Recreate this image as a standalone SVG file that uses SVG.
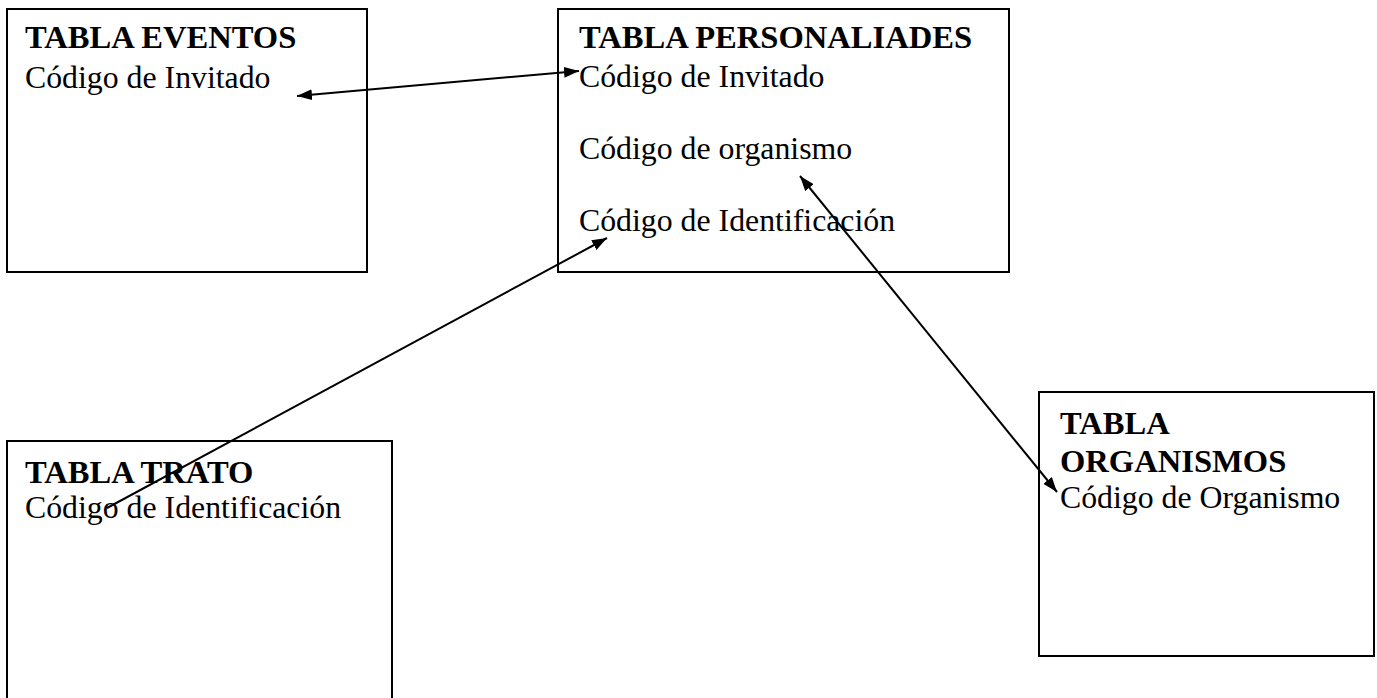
<svg xmlns="http://www.w3.org/2000/svg" width="1377" height="698" viewBox="0 0 1377 698">
<style>
.box{fill:#fff;stroke:#000;stroke-width:2}
.t{font-family:"Liberation Serif","Times New Roman",serif;font-size:31.8px;fill:#000}
.b{font-weight:bold;font-size:32.6px}
.c{fill:none;stroke:#000;stroke-width:2}
</style>
<defs>
<marker id="ah" viewBox="0 0 10 10" refX="10" refY="5" markerWidth="15" markerHeight="11" markerUnits="userSpaceOnUse" orient="auto-start-reverse" preserveAspectRatio="none">
<path d="M0,0 L10,5 L0,10 z" fill="#000"/>
</marker>
</defs>
<rect width="1377" height="698" fill="#fff"/>
<g id="eventos">
<rect class="box" x="7" y="9" width="360" height="263"/>
<text class="t b" x="25" y="48">TABLA EVENTOS</text>
<text class="t" x="25" y="88">Código de Invitado</text>
</g>
<g id="personalidades">
<rect class="box" x="558" y="9" width="451" height="263"/>
<text class="t b" x="579" y="48">TABLA PERSONALIADES</text>
<text class="t" x="579" y="87">Código de Invitado</text>
<text class="t" x="579" y="159">Código de organismo</text>
<text class="t" x="579" y="231">Código de Identificación</text>
</g>
<g id="trato">
<rect class="box" x="7" y="441" width="385" height="270"/>
<text class="t b" x="25" y="483">TABLA TRATO</text>
<text class="t" x="25" y="518">Código de Identificación</text>
</g>
<g id="organismos">
<rect class="box" x="1039" y="392" width="335" height="264"/>
<text class="t b" x="1060" y="434">TABLA</text>
<text class="t b" x="1060" y="472">ORGANISMOS</text>
<text class="t" x="1060" y="508">Código de Organismo</text>
</g>
<g id="connectors">
<line class="c" x1="297" y1="96" x2="579" y2="71" marker-start="url(#ah)" marker-end="url(#ah)"/>
<line class="c" x1="107" y1="508" x2="607" y2="238" marker-end="url(#ah)"/>
<line class="c" x1="800" y1="176" x2="1057" y2="492" marker-start="url(#ah)" marker-end="url(#ah)"/>
</g>
</svg>
